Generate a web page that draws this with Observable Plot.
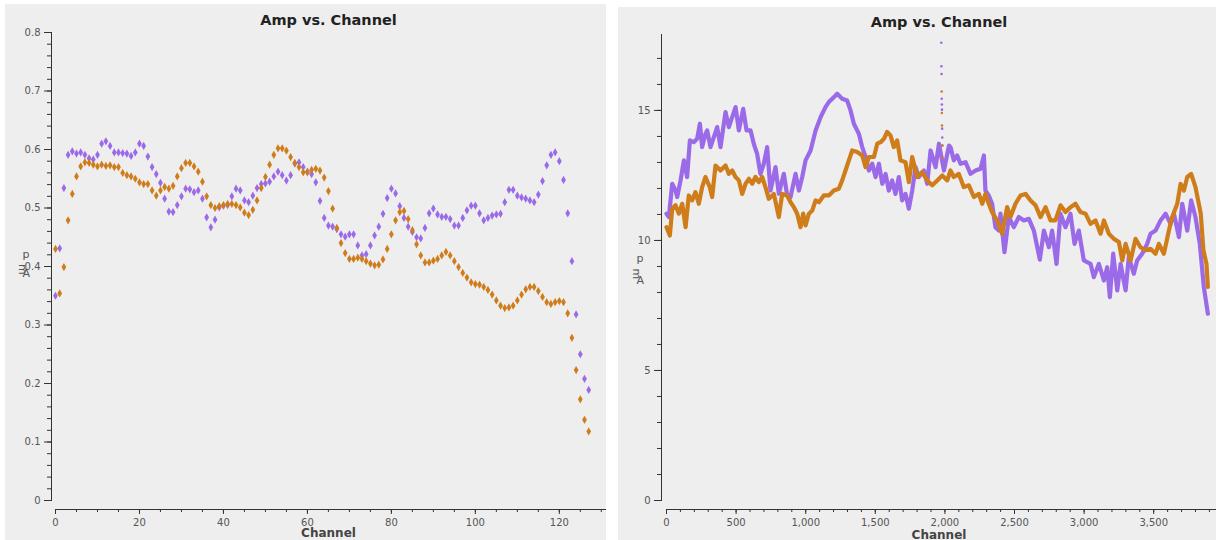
<!DOCTYPE html>
<html><head><meta charset="utf-8">
<script src="https://cdn.jsdelivr.net/npm/d3@7"></script>
<script src="https://cdn.jsdelivr.net/npm/@observablehq/plot@0.6"></script>
<style>
html,body{margin:0;padding:0;background:#fff;width:1216px;height:540px;overflow:hidden;}
.panel{position:absolute;background:#eeeeee;}
#left{left:5px;top:4px;width:601px;height:536px;}
#right{left:618px;top:7px;width:598px;height:533px;}
svg{display:block;}
</style></head><body>
<div id="left" class="panel"></div><div id="right" class="panel"></div>
<script>
// ---------- LEFT PANEL DATA (128 channels) ----------
const leftChannels = [0,1,2,3,4,5,6,7,8,9,10,11,12,13,14,15,16,17,18,19,20,21,22,23,24,25,26,27,28,29,30,31,32,33,34,35,36,37,38,39,40,41,42,43,44,45,46,47,48,49,50,51,52,53,54,55,56,57,58,59,60,61,62,63,64,65,66,67,68,69,70,71,72,73,74,75,76,77,78,79,80,81,82,83,84,85,86,87,88,89,90,91,92,93,94,95,96,97,98,99,100,101,102,103,104,105,106,107,108,109,110,111,112,113,114,115,116,117,118,119,120,121,122,123,124,125,126,127];
const leftPurple = [0.350,0.431,0.534,0.591,0.597,0.593,0.595,0.591,0.585,0.583,0.591,0.610,0.614,0.606,0.595,0.595,0.594,0.593,0.589,0.595,0.610,0.606,0.588,0.570,0.558,0.543,0.516,0.494,0.493,0.505,0.520,0.533,0.532,0.527,0.530,0.516,0.484,0.467,0.480,0.501,0.504,0.505,0.520,0.533,0.530,0.513,0.510,0.521,0.534,0.541,0.542,0.545,0.554,0.562,0.556,0.547,0.556,0.576,0.578,0.570,0.562,0.558,0.544,0.512,0.483,0.470,0.468,0.464,0.455,0.451,0.455,0.455,0.436,0.419,0.421,0.436,0.453,0.468,0.490,0.517,0.533,0.525,0.503,0.483,0.468,0.459,0.450,0.448,0.466,0.491,0.499,0.489,0.485,0.485,0.481,0.470,0.470,0.483,0.496,0.504,0.504,0.491,0.479,0.483,0.487,0.489,0.490,0.510,0.531,0.531,0.521,0.518,0.516,0.513,0.510,0.523,0.546,0.573,0.591,0.595,0.580,0.548,0.491,0.409,0.318,0.250,0.208,0.189];
const leftOrange = [0.430,0.354,0.399,0.479,0.524,0.554,0.571,0.578,0.577,0.574,0.571,0.574,0.572,0.573,0.570,0.570,0.560,0.556,0.554,0.550,0.544,0.541,0.541,0.530,0.521,0.530,0.536,0.533,0.538,0.554,0.568,0.577,0.577,0.571,0.562,0.545,0.520,0.505,0.500,0.503,0.505,0.507,0.507,0.505,0.501,0.492,0.488,0.497,0.513,0.534,0.553,0.574,0.591,0.602,0.602,0.598,0.587,0.577,0.570,0.561,0.561,0.565,0.567,0.564,0.552,0.529,0.499,0.466,0.440,0.423,0.413,0.413,0.415,0.413,0.409,0.405,0.402,0.403,0.412,0.430,0.455,0.479,0.493,0.495,0.481,0.462,0.438,0.419,0.407,0.407,0.410,0.413,0.419,0.425,0.419,0.409,0.399,0.389,0.381,0.373,0.370,0.369,0.365,0.360,0.352,0.342,0.333,0.329,0.330,0.333,0.342,0.352,0.361,0.365,0.365,0.358,0.348,0.339,0.336,0.339,0.341,0.339,0.320,0.278,0.223,0.173,0.138,0.118];
const leftXTicks = [0,20,40,60,80,100,120];
const leftYTicks = [0,0.1,0.2,0.3,0.4,0.5,0.6,0.7,0.8];

// ---------- RIGHT PANEL DATA (3840 channels, sampled) ----------
const rightPurpleCh = [0,17,41,65,77,101,125,148,168,196,220,240,256,280,292,316,340,364,388,424,448,472,496,520,551,575,604,627,651,675,699,723,747,783,807,843,867,891,927,951,975,999,1035,1071,1107,1142,1166,1202,1226,1262,1298,1322,1346,1382,1406,1430,1454,1478,1502,1526,1550,1574,1597,1621,1645,1669,1693,1717,1741,1765,1789,1813,1849,1873,1897,1933,1957,1993,2029,2040,2064,2088,2112,2148,2184,2220,2256,2280,2291,2315,2339,2363,2387,2399,2428,2459,2495,2531,2567,2603,2639,2682,2711,2747,2770,2802,2830,2866,2902,2931,2962,2998,3046,3070,3106,3142,3166,3185,3209,3238,3262,3298,3321,3357,3381,3417,3453,3477,3513,3549,3585,3621,3645,3681,3705,3741,3769,3800,3831,3860,3889];
const rightPurpleAmp = [11.03,10.90,12.18,11.92,11.67,12.31,13.08,12.44,13.85,13.78,13.91,14.49,13.59,14.10,14.23,13.59,13.97,14.36,13.59,14.94,14.36,14.74,15.13,14.23,15.06,14.23,14.23,13.72,13.33,12.56,12.95,13.59,11.92,12.82,11.80,12.56,11.73,11.67,12.56,11.92,12.44,13.08,13.46,14.23,14.74,15.13,15.32,15.51,15.64,15.45,15.38,15.00,14.49,14.10,13.59,13.21,12.69,12.95,12.44,12.95,12.18,12.56,11.92,12.31,11.79,12.44,11.54,11.79,11.22,11.92,12.82,12.44,12.69,12.18,13.46,12.82,13.72,12.69,13.65,13.59,13.08,13.27,12.95,13.01,12.56,12.69,12.76,13.27,11.92,11.73,11.41,10.51,10.38,11.03,9.55,10.90,10.51,10.90,10.77,10.83,10.38,9.26,10.38,9.74,10.38,9.10,11.03,10.51,11.03,9.87,10.38,9.23,9.10,8.59,9.10,8.46,8.97,7.82,9.49,8.08,9.10,8.08,9.36,8.72,9.23,9.49,9.87,10.26,10.38,10.77,11.03,10.64,11.03,10.13,11.41,10.38,11.54,10.90,9.87,8.21,7.18];
const rightOrangeCh = [0,24,41,65,89,113,137,160,184,208,232,256,280,311,328,352,388,424,448,472,496,520,544,568,592,616,639,663,687,711,735,771,807,831,867,891,915,939,963,982,999,1023,1047,1071,1095,1130,1166,1202,1238,1262,1286,1310,1334,1370,1406,1430,1454,1490,1514,1538,1562,1585,1609,1633,1657,1681,1717,1741,1765,1801,1837,1873,1909,1945,1981,2017,2040,2064,2100,2136,2172,2208,2244,2268,2291,2315,2339,2375,2411,2447,2471,2507,2543,2579,2615,2651,2687,2723,2759,2794,2830,2866,2902,2938,2974,3010,3046,3082,3118,3142,3178,3214,3250,3274,3298,3334,3369,3405,3441,3477,3513,3537,3573,3609,3633,3669,3693,3717,3741,3769,3800,3824,3838,3857,3879,3889];
const rightOrangeAmp = [10.51,10.19,11.22,11.35,11.03,11.41,10.51,11.73,11.54,11.86,11.41,12.05,12.44,12.05,11.67,12.88,12.69,12.88,12.56,12.69,12.44,12.31,11.79,12.18,12.37,12.18,12.44,12.24,12.44,12.05,11.60,11.79,10.90,11.79,11.73,11.47,11.28,11.03,10.51,11.03,10.58,11.03,11.15,11.54,11.47,11.73,11.73,11.92,11.99,12.31,12.69,13.08,13.46,13.40,13.27,12.82,13.21,13.21,13.72,13.78,13.91,14.17,14.04,13.59,13.85,13.08,13.01,12.24,13.21,12.44,12.63,12.31,12.12,12.31,12.50,12.31,12.69,12.44,12.56,12.05,12.12,11.67,11.79,11.41,11.79,11.41,11.09,10.77,10.26,11.28,10.90,11.41,11.73,11.79,11.54,11.35,10.90,11.28,10.77,10.77,11.35,11.09,11.28,11.41,11.09,11.03,10.64,10.77,10.26,10.77,10.26,10.06,9.94,9.23,9.87,9.23,10.06,9.74,9.62,9.68,9.49,9.87,9.49,10.38,10.90,11.41,12.18,11.92,12.44,12.56,12.05,11.41,11.03,9.62,9.10,8.21];
// isolated outlier channels (the spike near channel 1,975)
const spikePurpleCh = [1974,1975,1976,1977,1978,1979,1980,1981,1982];
const spikePurpleAmp = [17.60,16.70,16.40,15.45,15.23,15.03,14.30,13.96,13.65];
const spikeOrangeCh = [1977,1978,1979,1980,1981];
const spikeOrangeAmp = [15.73,14.90,14.42,13.65,13.20];
const rightXTicks = [0,500,1000,1500,2000,2500,3000,3500];
const rightYTicks = [0,5,10,15];

const titleText = "Amp vs. Channel";
const xLabel = "Channel";
const yLetters = ["p","m","A"];

const PURPLE = "#9a6ae8", ORANGE = "#cf7d1b";
const FONT = "DejaVu Sans, sans-serif";

const zip = (xs, ys) => xs.map((c, i) => ({ch: c, amp: ys[i]}));

function yLabelMarks(dx, dys) {
  return yLetters.map((t, i) => Plot.text([t], {
    text: d => d, frameAnchor: "left", dx, dy: dys[i], fontSize: 11, fill: "#555",
    rotate: t === "m" ? 90 : 0
  }));
}

// ---------- LEFT ----------
const left = Plot.plot({
  width: 601, height: 536,
  marginLeft: 46, marginRight: 1, marginTop: 28, marginBottom: 31,
  style: {background: "transparent", fontFamily: FONT, fontSize: "10px", color: "#555"},
  x: {domain: [0, 131], insetLeft: 4, axis: null},
  y: {domain: [0, 0.8], insetBottom: 9, axis: null},
  marks: [
    Plot.frame({anchor: "left", insetBottom: 9, stroke: "#333"}),
    Plot.frame({anchor: "bottom", insetLeft: 4, stroke: "#333"}),
    Plot.axisY(d3.range(0, 0.801, 0.02), {tickSize: 4, tickFormat: () => "", stroke: "#333", label: null}),
    Plot.axisY(leftYTicks, {tickSize: 7, tickPadding: 4, stroke: "#333", label: null,
      tickFormat: d => d === 0 ? "0" : d.toFixed(1)}),
    Plot.axisX(d3.range(0, 131, 5), {tickSize: 3, tickFormat: () => "", stroke: "#333", label: null}),
    Plot.axisX(leftXTicks, {tickSize: 5, tickPadding: 4, stroke: "#333", label: null, tickFormat: d => String(d)}),
    Plot.dot(zip(leftChannels, leftPurple), {x: "ch", y: "amp", symbol: "diamond", r: 2.5, fill: PURPLE, stroke: "none"}),
    Plot.dot(zip(leftChannels, leftOrange), {x: "ch", y: "amp", symbol: "diamond", r: 2.5, fill: ORANGE, stroke: "none"}),
    Plot.text([titleText], {text: d => d, frameAnchor: "top", dy: -18, fontSize: 14.5, fontWeight: "bold", fill: "#222"}),
    Plot.text([xLabel], {text: d => d, frameAnchor: "bottom", dy: 27, fontSize: 12, fontWeight: 600, fill: "#444"}),
    ...yLabelMarks(-29, [-16.5, -7, 2.5])
  ]
});
document.getElementById("left").appendChild(left);

// ---------- RIGHT ----------
const right = Plot.plot({
  width: 598, height: 533,
  marginLeft: 43, marginRight: 0, marginTop: 27, marginBottom: 31,
  style: {background: "transparent", fontFamily: FONT, fontSize: "10px", color: "#555"},
  x: {domain: [0, 3951], insetLeft: 5, axis: null},
  y: {domain: [0, 17.92], insetBottom: 9, axis: null},
  marks: [
    Plot.frame({anchor: "left", insetBottom: 9, stroke: "#333"}),
    Plot.frame({anchor: "bottom", insetLeft: 5, stroke: "#333"}),
    Plot.axisY(d3.range(0, 18, 1), {tickSize: 4, tickFormat: () => "", stroke: "#333", label: null}),
    Plot.axisY(rightYTicks, {tickSize: 7, tickPadding: 4, stroke: "#333", label: null, tickFormat: d => String(d)}),
    Plot.axisX(d3.range(0, 3951, 100), {tickSize: 3, tickFormat: () => "", stroke: "#333", label: null}),
    Plot.axisX(rightXTicks, {tickSize: 5, tickPadding: 4, stroke: "#333", label: null, tickFormat: d3.format(",")}),
    Plot.line(zip(rightPurpleCh, rightPurpleAmp), {x: "ch", y: "amp", stroke: PURPLE, strokeWidth: 4.2, strokeLinejoin: "round"}),
    Plot.line(zip(rightOrangeCh, rightOrangeAmp), {x: "ch", y: "amp", stroke: ORANGE, strokeWidth: 4.2, strokeLinejoin: "round"}),
    Plot.dot(zip(spikePurpleCh, spikePurpleAmp), {x: "ch", y: "amp", r: 1.3, fill: PURPLE, stroke: "none"}),
    Plot.dot(zip(spikeOrangeCh, spikeOrangeAmp), {x: "ch", y: "amp", r: 1.3, fill: ORANGE, stroke: "none"}),
    Plot.text([titleText], {text: d => d, frameAnchor: "top", dy: -18, fontSize: 14.5, fontWeight: "bold", fill: "#222"}),
    Plot.text([xLabel], {text: d => d, frameAnchor: "bottom", dy: 29, fontSize: 12, fontWeight: 600, fill: "#444"}),
    ...yLabelMarks(-25, [-13.5, -3.5, 8.5])
  ]
});
document.getElementById("right").appendChild(right);
</script>
</body></html>
